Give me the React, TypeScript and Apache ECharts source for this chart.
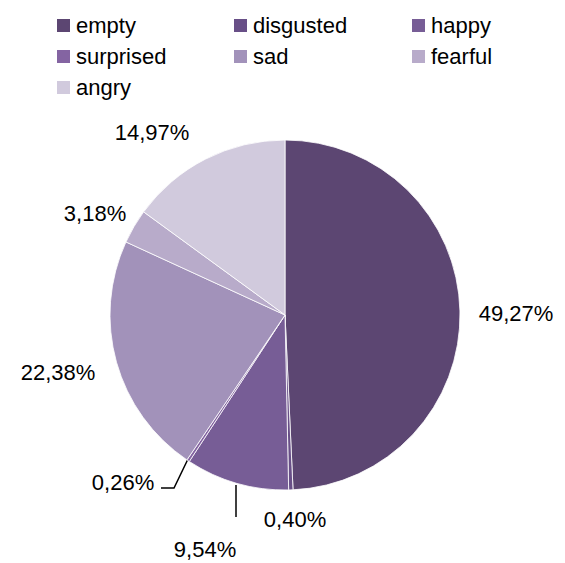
import React, { useEffect, useRef } from "react";
import * as echarts from "echarts";

const categories = ["empty", "disgusted", "happy", "surprised", "sad", "fearful", "angry"];
const values = [49.27, 0.4, 9.54, 0.26, 22.38, 3.18, 14.97];
const colors = ["#5C4672", "#684F87", "#775D96", "#8464A2", "#A292BA", "#B8ABCA", "#D1CADD"];

// label layout (pixel positions of label centres) — layout only
const labelPos: [number, number][] = [
  [516, 313],
  [295, 519],
  [205, 549],
  [123, 482],
  [58, 372],
  [95, 213],
  [152, 132],
];
const leaderLines: Record<number, [number, number][]> = {
  2: [[236, 485], [236, 517]],
  3: [[188, 459], [174, 488], [161, 488]],
};

const legendColumns = [
  { left: 50, items: ["empty", "surprised", "angry"] },
  { left: 227, items: ["disgusted", "sad"] },
  { left: 405, items: ["happy", "fearful"] },
];

const FONT = "'Liberation Sans', Arial, sans-serif";

export default function App() {
  const ref = useRef<HTMLDivElement>(null);
  useEffect(() => {
    if (!ref.current) return;
    const chart = echarts.init(ref.current, undefined, { renderer: "svg" });
    const fmt = (v: number) => v.toFixed(2).replace(".", ",") + "%";
    chart.setOption({
      animation: false,
      backgroundColor: "#ffffff",
      color: colors,
      legend: legendColumns.map((c) => ({
        orient: "vertical",
        left: c.left,
        top: 9.5,
        data: c.items,
        icon: "rect",
        itemWidth: 15,
        itemHeight: 15,
        itemGap: 9,
        selectedMode: false,
        textStyle: { fontFamily: FONT, fontSize: 22, color: "#000", lineHeight: 22 },
      })),
      series: [
        {
          type: "pie",
          center: [285, 315],
          radius: [0, 175],
          startAngle: 90,
          clockwise: true,
          avoidLabelOverlap: false,
          itemStyle: { borderColor: "#ffffff", borderWidth: 0.8 },
          label: {
            show: true,
            position: "outside",
            fontFamily: FONT,
            fontSize: 22,
            color: "#000",
            formatter: (p: any) => fmt(p.value),
          },
          labelLine: { show: false, lineStyle: { color: "#000", width: 1.5 } },
          labelLayout: (p: any) => {
            const [x, y] = labelPos[p.dataIndex];
            const res: any = { x, y, align: "center", verticalAlign: "middle" };
            if (leaderLines[p.dataIndex]) res.labelLinePoints = leaderLines[p.dataIndex];
            return res;
          },
          data: categories.map((name, i) => ({
            name,
            value: values[i],
            labelLine: { show: !!leaderLines[i] },
          })),
          emphasis: { disabled: true },
        },
      ],
    });
    return () => chart.dispose();
  }, []);
  return <div ref={ref} style={{ width: 565, height: 563, position: "absolute", left: 0, top: 0 }} />;
}
